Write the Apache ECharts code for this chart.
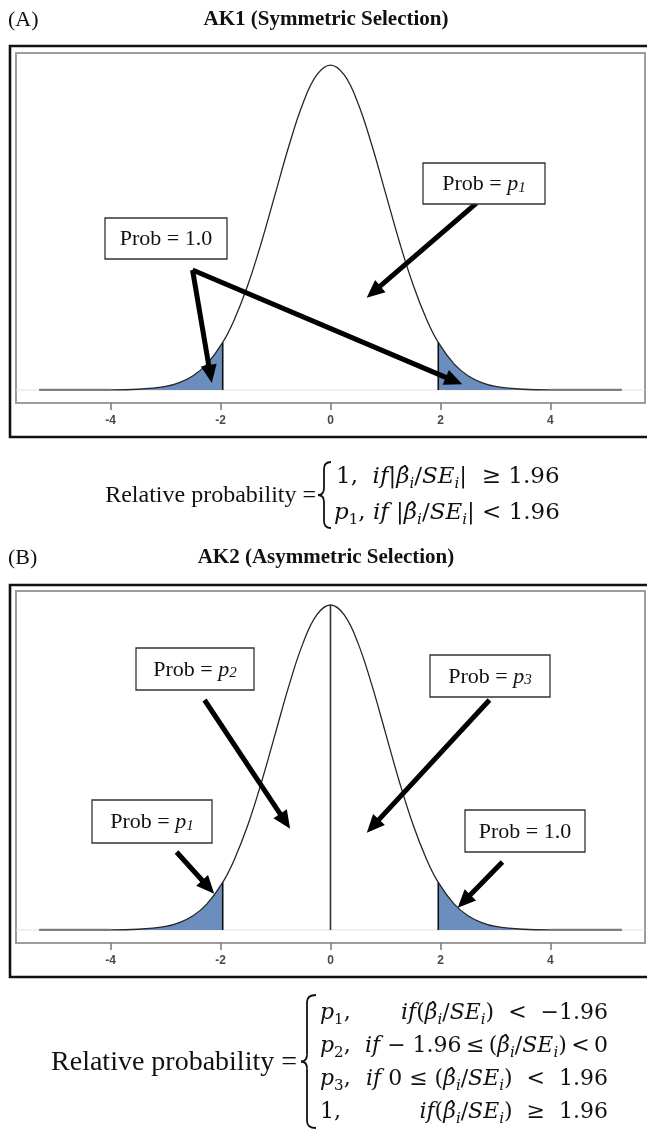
<!DOCTYPE html>
<html><head><meta charset="utf-8">
<style>html,body{margin:0;padding:0;background:#fff}#c{width:647px;height:1138px}</style>
<script src="https://cdn.jsdelivr.net/npm/echarts@6/dist/echarts.min.js"></script>
</head><body><div id="c"></div>
<script>
// ---- data ----
const densX = [-5.3,-5,-4.5,-4,-3.5,-3,-2.75,-2.5,-2.25,-1.96,-1.75,-1.5,-1.25,-1,-0.75,-0.5,-0.25,0,0.25,0.5,0.75,1,1.25,1.5,1.75,1.96,2.25,2.5,2.75,3,3.5,4,4.5,5,5.3];
const densY = [0,0,0,0.0001,0.0009,0.0044,0.0091,0.0175,0.0317,0.0584,0.0863,0.1295,0.1826,0.2420,0.3011,0.3521,0.3867,0.3989,0.3867,0.3521,0.3011,0.2420,0.1826,0.1295,0.0863,0.0584,0.0317,0.0175,0.0091,0.0044,0.0009,0.0001,0,0,0];
const tickValues = [-4,-2,0,2,4];
const cutoff = 1.96;
const darkRange = [-4,4];
// arrows: [fromX, fromY, toX, toY] in data units
const arrowsA = [[2.655,0.2295,0.782,0.1203],[-2.509,0.1473,-2.187,0.0195],[-2.509,0.1473,2.247,0.0112]];
const arrowsB = [[-2.291,0.2823,-0.825,0.1334],[2.891,0.2823,0.771,0.1275],[-2.8,0.0957,-2.225,0.0527],[3.127,0.0835,2.429,0.0352]];
const titles = ['AK1 (Symmetric Selection)','AK2 (Asymmetric Selection)'];
const panelTags = ['(A)','(B)'];

// ---- layout ----
const X_MIN = -5.72, X_MAX = 5.72;
const grids = [
  {left:16, top:53, width:629, height:350, yMin:-0.016, yMax:0.4137},
  {left:16, top:591, width:629, height:352, yMin:-0.016, yMax:0.4161}
];
const SERIF = "'Liberation Serif','Times New Roman',serif";
const MATH = "'DejaVu Serif',serif";

const pts = densX.map((x,i)=>[x,densY[i]]);
const inRange = (a,b)=>pts.filter(p=>p[0]>=a-1e-9 && p[0]<=b+1e-9);
const yAt = x => densY[densX.indexOf(x)];

const series = [];
const xAxes = [], yAxes = [], gridOpts = [];
grids.forEach((g,gi)=>{
  gridOpts.push({left:g.left, top:g.top, width:g.width, height:g.height, show:true, borderColor:'#9c9c9c', borderWidth:2, backgroundColor:'#fff'});
  xAxes.push({gridIndex:gi, type:'value', min:X_MIN, max:X_MAX, position:'bottom',
    axisLine:{show:false, onZero:false}, splitLine:{show:false},
    axisTick:{show:true, customValues:tickValues, length:7, lineStyle:{color:'#777', width:1.5}},
    axisLabel:{customValues:tickValues, margin:12, color:'#4a4a4a', fontSize:12, fontWeight:'bold', fontFamily:"'Liberation Sans',Arial,sans-serif"}});
  yAxes.push({gridIndex:gi, type:'value', min:g.yMin, max:g.yMax, show:false});
  const arrows = gi===0 ? arrowsA : arrowsB;
  const common = {xAxisIndex:gi, yAxisIndex:gi, type:'line', symbol:'none', silent:true, animation:false};
  series.push(Object.assign({}, common, {name:'base'+gi, data:[[X_MIN,0],[X_MAX,0]], lineStyle:{color:'#e2e2e2', width:1}, z:1}));
  series.push(Object.assign({}, common, {data:inRange(-Infinity,-cutoff).filter(p=>p[0]>=darkRange[0]), smooth:0.4, lineStyle:{width:0}, areaStyle:{color:'#6b8ebf', opacity:1}, z:2}));
  series.push(Object.assign({}, common, {data:inRange(cutoff,Infinity).filter(p=>p[0]<=darkRange[1]), smooth:0.4, lineStyle:{width:0}, areaStyle:{color:'#6b8ebf', opacity:1}, z:2}));
  series.push(Object.assign({}, common, {data:inRange(-Infinity,darkRange[0]), lineStyle:{color:'#7d7d7d', width:2.2}, z:3}));
  series.push(Object.assign({}, common, {data:inRange(darkRange[1],Infinity), lineStyle:{color:'#7d7d7d', width:2.2}, z:3}));
  series.push(Object.assign({}, common, {data:inRange(darkRange[0],darkRange[1]), smooth:0.4, lineStyle:{color:'#262626', width:1.3}, z:4}));
  series.push(Object.assign({}, common, {data:[[-cutoff,0],[-cutoff,yAt(-cutoff)]], lineStyle:{color:'#111', width:1.6}, z:4}));
  series.push(Object.assign({}, common, {data:[[cutoff,0],[cutoff,yAt(cutoff)]], lineStyle:{color:'#111', width:1.6}, z:4}));
  if (gi===1) series.push(Object.assign({}, common, {data:[[0,0],[0,yAt(0)]], lineStyle:{color:'#333', width:1.6}, z:4}));
  series.push(Object.assign({}, common, {data:[], z:6, markLine:{silent:true, animation:false, symbol:['none','triangle'], symbolSize:[16,18], label:{show:false}, emphasis:{disabled:true},
    lineStyle:{color:'#000', width:5, type:'solid'},
    data: arrows.map(a=>[{coord:[a[0],a[1]]},{coord:[a[2],a[3]]}])}}));
});

// ---- graphics: frames, titles, boxes, formulas ----
const G = [];
function txt(x,y,text,opt){
  const st = Object.assign({text:text, fill:'#111', align:opt.align||'left', textAlign:opt.align||'left', verticalAlign:'middle', textVerticalAlign:'middle', font:opt.font}, opt.rich?{rich:opt.rich}:{});
  G.push({type:'text', x:x, y:y, z:20, silent:true, style:st});
}
// frames
[[10,46,640,391],[10,585,640,392]].forEach(r=>G.push({type:'rect', z:5, silent:true, shape:{x:r[0],y:r[1],width:r[2],height:r[3]}, style:{fill:'none', stroke:'#111', lineWidth:2.6}}));
// tags + titles
[[20,0],[558,1]].forEach(([y,i])=>{
  txt(8,y,panelTags[i],{font:'22px '+SERIF});
  txt(326,y,titles[i],{font:'bold 21px '+SERIF, align:'center'});
});
// boxes
const boxRich = {it:{fontStyle:'italic', fontSize:22, fontFamily:SERIF}, sub:{fontStyle:'italic', fontSize:15, fontFamily:SERIF, verticalAlign:'bottom', lineHeight:10}};
const boxes = [
  {x:423,y:163,w:122,h:41,t:'Prob = {it|p}{sub|1}'},
  {x:105,y:218,w:122,h:41,t:'Prob = 1.0'},
  {x:136,y:648,w:118,h:42,t:'Prob = {it|p}{sub|2}'},
  {x:430,y:655,w:120,h:42,t:'Prob = {it|p}{sub|3}'},
  {x:92,y:800,w:120,h:43,t:'Prob = {it|p}{sub|1}'},
  {x:465,y:810,w:120,h:42,t:'Prob = 1.0'}
];
boxes.forEach(b=>{
  G.push({type:'rect', z:18, silent:true, shape:{x:b.x,y:b.y,width:b.w,height:b.h}, style:{fill:'#fff', stroke:'#333', lineWidth:1.3}});
  txt(b.x+b.w/2, b.y+b.h/2+1, b.t, {font:'22px '+SERIF, align:'center', rich:boxRich});
});
// formulas
function mathRich(fs){
  const sub = Math.round(fs*0.66), lh = Math.round(fs*1.3);
  return {
    n:{fontFamily:MATH, fontSize:fs, lineHeight:lh},
    it:{fontFamily:MATH, fontSize:fs, fontStyle:'italic', lineHeight:lh},
    sub:{fontFamily:MATH, fontSize:sub, fontStyle:'italic', verticalAlign:'bottom', lineHeight:lh},
    subn:{fontFamily:MATH, fontSize:sub, verticalAlign:'bottom', lineHeight:lh}
  };
}
const mrA = mathRich(23), mrB = mathRich(22);
const bse = '{it|β\u0302}{sub|i}{n|/}{it|SE}{sub|i}';
function brace(xL,xM,xR,yT,yB,r){
  const ym=(yT+yB)/2, st={stroke:'#111', lineWidth:1.8, fill:'none'};
  const q=(x1,y1,cx,cy,x2,y2)=>G.push({type:'bezierCurve', z:20, silent:true, shape:{x1,y1,cpx1:cx,cpy1:cy,x2,y2}, style:st});
  const l=(x1,y1,x2,y2)=>G.push({type:'line', z:20, silent:true, shape:{x1,y1,x2,y2}, style:st});
  q(xR,yT,xM,yT,xM,yT+r); l(xM,yT+r,xM,ym-r); q(xM,ym-r,xM,ym,xL,ym);
  q(xL,ym,xM,ym,xM,ym+r); l(xM,ym+r,xM,yB-r); q(xM,yB-r,xM,yB,xR,yB);
}
// formula A
txt(316,496,'Relative probability =',{font:'24px '+SERIF, align:'right'});
brace(318,324,331,462,528,7);
txt(336,477,'{n|1,  }{it|if}{n||}'+bse+'{n||  ≥ 1.96}',{font:'23px '+MATH, rich:mrA});
txt(334,513,'{it|p}{subn|1}{n|, }{it|if }{n||}'+bse+'{n|| < 1.96}',{font:'23px '+MATH, rich:mrA});
// formula B
txt(297,1063,'Relative probability =',{font:'28px '+SERIF, align:'right'});
brace(301,307,316,995,1128,7);
const rowsY = [1013,1046,1079,1112];
const col1 = ['{it|p}{subn|1}{n|,}','{it|p}{subn|2}{n|,}','{it|p}{subn|3}{n|,}','{n|1,}'];
const col2 = ['{it|if}{n|(}'+bse+'{n|)  <  −1.96}',
              '{it|if}{n| − 1.96\u2009≤\u2009(}'+bse+'{n|)\u2009<\u20090}',
              '{it|if}{n| 0 ≤ (}'+bse+'{n|)  <  1.96}',
              '{it|if}{n|(}'+bse+'{n|)  ≥  1.96}'];
rowsY.forEach((y,i)=>{
  txt(320,y,col1[i],{font:'22px '+MATH, rich:mrB});
  txt(608,y,col2[i],{font:'22px '+MATH, rich:mrB, align:'right'});
});

const chart = echarts.init(document.getElementById('c'), null, {renderer:'canvas'});
chart.setOption({animation:false, backgroundColor:'#fff', grid:gridOpts, xAxis:xAxes, yAxis:yAxes, series:series, graphic:{elements:G}});
</script></body></html>
